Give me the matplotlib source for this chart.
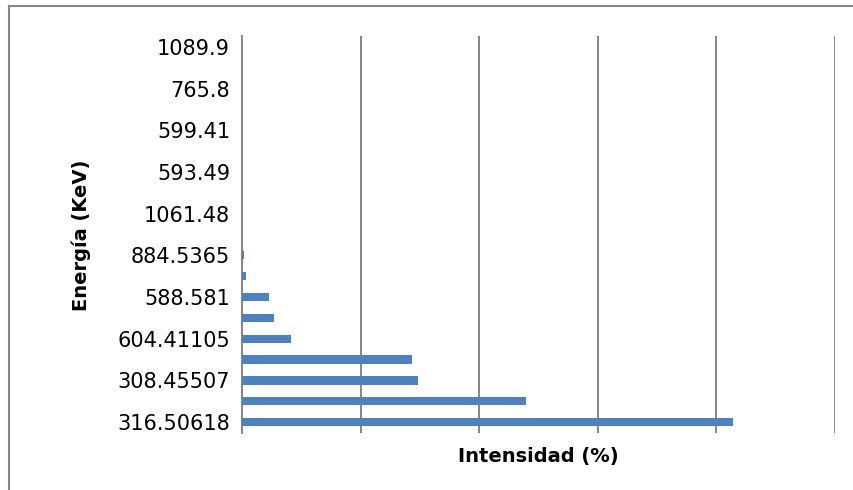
import matplotlib
matplotlib.use('agg')
import matplotlib.pyplot as plt
from matplotlib.lines import Line2D
import numpy as np

# Ir-192 gamma lines, bottom to top as drawn
energias = ["316.50618", "468.06885", "308.45507", "295.9565", "604.41105",
            "612.46215", "588.581", "416.4688", "884.5365", "703.98",
            "1061.48", "420.52", "593.49", "1378.2", "599.41",
            "761.0", "765.8", "201.3112", "1089.9"]
intensidad = [82.86, 47.84, 29.70, 28.67, 8.20,
              5.34, 4.52, 0.67, 0.29, 0.005,
              0.053, 0.007, 0.0042, 0.0012, 0.004,
              0.002, 0.0013, 0.001, 0.0012]
xticks = [0, 20, 40, 60, 80, 100]

grid_color = "#868686"
bar_color = "#4F81BD"

fig = plt.figure(figsize=(8.54, 4.90), dpi=100)
ax = fig.add_axes([0.2834, 0.1173, 0.6944, 0.8084])

pos = np.arange(len(energias))
ax.barh(pos, intensidad, height=0.4, color=bar_color, zorder=3)

ax.set_xlim(0, 100)
ax.set_ylim(-0.5, len(energias) - 0.5)
ax.set_xticks(xticks)
ax.set_xticklabels([])
ax.tick_params(axis="x", length=0)
ax.xaxis.grid(True, color=grid_color, lw=1.4)
ax.set_axisbelow(True)

# Excel only shows every other category label
ax.set_yticks(pos)
ax.set_yticklabels([e if i % 2 == 0 else "" for i, e in enumerate(energias)],
                   fontsize=15)
ax.tick_params(axis="y", length=0, pad=8.6)

for s in ["top", "right", "bottom"]:
    ax.spines[s].set_visible(False)
ax.spines["left"].set_color(grid_color)
ax.spines["left"].set_linewidth(1.4)

ax.set_xlabel("Intensidad (%)", fontsize=14, fontweight="bold", labelpad=7)
fig.text(81 / 854, 1 - 235 / 490, "Energía (KeV)", rotation=90,
         ha="center", va="center", fontsize=14, fontweight="bold")

# chart area border (only top and left show in the crop)
fig.add_artist(Line2D([9 / 854, 1.0], [1 - 6 / 490, 1 - 6 / 490],
                      transform=fig.transFigure, color=grid_color, lw=1.5))
fig.add_artist(Line2D([9 / 854, 9 / 854], [0.0, 1 - 6 / 490],
                      transform=fig.transFigure, color=grid_color, lw=1.5))

fig.savefig("out.png", dpi=100)
